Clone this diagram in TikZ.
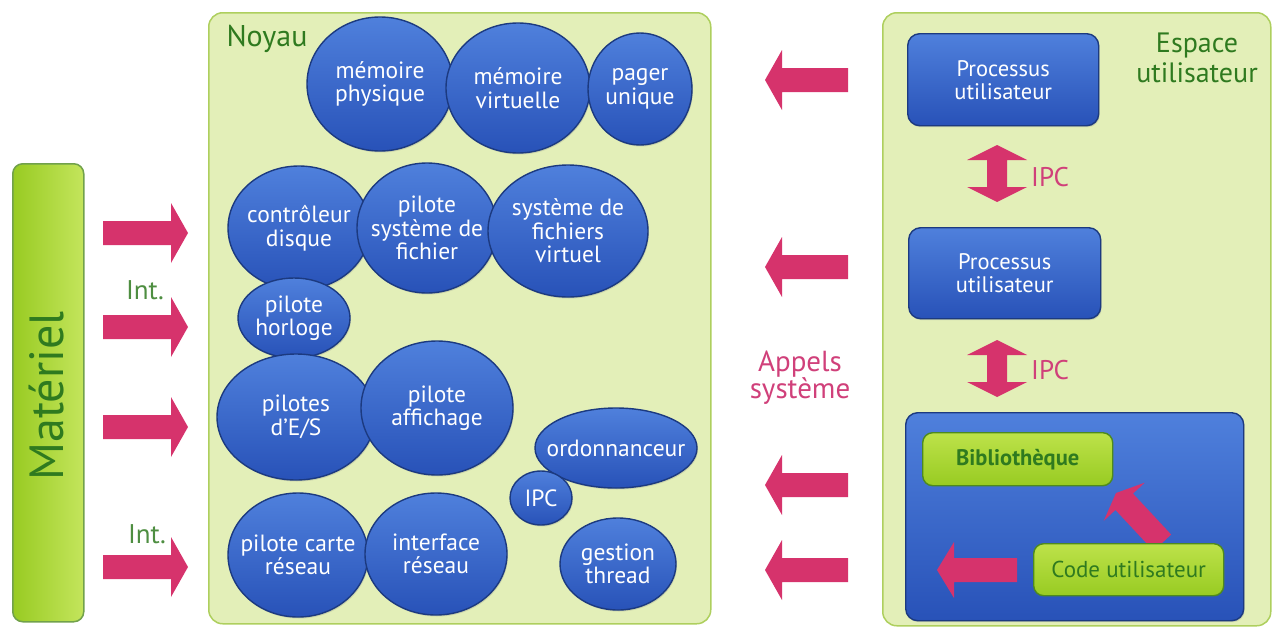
\documentclass[tikz,border=0pt]{standalone}
\usepackage{fontspec}
\setmainfont{PT Sans}
\usetikzlibrary{shapes.geometric,shadows}
\definecolor{bLight}{HTML}{4F80DC}
\definecolor{bDark}{HTML}{2852B8}
\definecolor{bEdge}{HTML}{1C3A80}
\definecolor{panelFill}{HTML}{E3EFB8}
\definecolor{panelEdge}{HTML}{AECF5E}
\definecolor{gLight}{HTML}{BDE24A}
\definecolor{gDark}{HTML}{98CB22}
\definecolor{gEdge}{HTML}{4E8A1E}
\definecolor{dGreen}{HTML}{2F7A1F}
\definecolor{arrowCol}{HTML}{D6336C}
\definecolor{pinkText}{HTML}{D0407A}
\newcommand\blockarrow[5]{% tip, angle, length, head half-width, head length
  \fill[arrowCol, shift={#1}, rotate=#2]
    (0,0) -- (-#5,#4) -- (-#5,12) -- (-#3,12) -- (-#3,-12) -- (-#5,-12) -- (-#5,-#4) -- cycle;}
\newcommand\ipcarrow[3]{% x, top y, bottom y
  \fill[arrowCol] (#1,#2) -- ({#1+30},{#2+15}) -- ({#1+10},{#2+15}) -- ({#1+10},{#3-15})
    -- ({#1+30},{#3-15}) -- (#1,#3) -- ({#1-30},{#3-15}) -- ({#1-10},{#3-15})
    -- ({#1-10},{#2+15}) -- ({#1-30},{#2+15}) -- cycle;}
\newcommand\bub[5]{% name, width, height, centre, text
  \node[bubble, minimum width=#2pt, minimum height=#3pt, label={[bubtext]center:#5}] (#1) at (#4) {};}
\tikzset{
  panel/.style={draw=panelEdge, fill=panelFill, line width=1.5pt, rounded corners=14pt, anchor=north west, inner sep=0pt},
  bubble/.style={ellipse, draw=bEdge, line width=1.4pt, top color=bLight, bottom color=bDark,
    inner sep=0pt, drop shadow={opacity=0.25, shadow xshift=1pt, shadow yshift=-1.5pt}},
  bubtext/.style={text=white, align=center, inner sep=0pt, font=\fontsize{23.5}{23.5}\selectfont},
  bluebox/.style={draw=bEdge, line width=1.4pt, top color=bLight, bottom color=bDark, rounded corners=12pt,
    text=white, align=center, inner sep=0pt, anchor=north west, font=\fontsize{22.5}{23}\selectfont,
    drop shadow={opacity=0.25, shadow xshift=1pt, shadow yshift=-1.5pt}},
  greenbox/.style={draw=gEdge, line width=1.4pt, top color=gLight, bottom color=gDark, rounded corners=10pt,
    text=dGreen, align=center, inner sep=0pt, anchor=north west, font=\fontsize{23}{24}\selectfont},
  lbl/.style={align=center, inner sep=0pt}
}
\begin{document}
\begin{tikzpicture}[x=1pt,y=-1pt]
\useasboundingbox (0,0) rectangle (1276,632);
% panels
\node[panel, draw=gEdge!80, left color=gDark, right color=gLight!90, rounded corners=10pt,
  minimum width=71pt, minimum height=458pt] (mat) at (12,163) {};
\node[panel, minimum width=502pt, minimum height=611pt] (noyau) at (208,12) {};
\node[panel, minimum width=388pt, minimum height=613pt] (user) at (882,12) {};
% labels
\node[lbl, text=dGreen, rotate=90, font=\fontsize{48}{50}\selectfont] (matl) at (47,396) {Matériel};
\node[lbl, text=dGreen, font=\fontsize{30}{30}\selectfont] (noyl) at (267,39) {Noyau};
\node[lbl, text=dGreen, font=\fontsize{28}{30}\selectfont] (espl) at (1197,58) {Espace\\utilisateur};
\node[lbl, text=pinkText, font=\fontsize{29}{27}\selectfont] (appl) at (800,378) {Appels\\système};
\node[lbl, text=dGreen!85, font=\fontsize{27}{28}\selectfont] (int1) at (145,290) {Int.};
\node[lbl, text=dGreen!85, font=\fontsize{27}{28}\selectfont] (int2) at (147,534) {Int.};
% kernel bubbles
\bub{mphys}{146}{134}{380,84}{mémoire\\physique}
\bub{mvirt}{144}{130}{518,88}{mémoire\\virtuelle}
\bub{pager}{104}{112}{640,89}{pager\\unique}
\bub{cdisk}{142}{124}{299,228}{contrôleur\\disque}
\bub{psf}{140}{130}{427,228}{pilote\\système de\\fichier}
\bub{vfs}{160}{132}{568,231}{système de\\fichiers\\virtuel}
\bub{horl}{112}{80}{294,318}{pilote\\horloge}
\bub{pes}{158}{126}{296,417}{pilotes\\d'E/S}
\bub{paff}{152}{134}{437,408}{pilote\\affichage}
\bub{ordo}{162}{80}{616,448}{ordonnanceur}
\bub{ipck}{62}{54}{541,498}{IPC}
\bub{pcr}{140}{124}{298,555}{pilote carte\\réseau}
\bub{ires}{142}{122}{436,554}{interface\\réseau}
\bub{gthr}{116}{92}{618,564}{gestion\\thread}
% user space
\node[bluebox, minimum width=191pt, minimum height=92pt] (proc1) at (907,33) {Processus\\utilisateur};
\node[bluebox, minimum width=192pt, minimum height=91pt] (proc2) at (908,227) {Processus\\utilisateur};
\node[bluebox, minimum width=338pt, minimum height=208pt] (proc3) at (905,412) {};
\node[greenbox, font=\bfseries\fontsize{22.5}{24}\selectfont, minimum width=190pt, minimum height=53pt] (bib) at (922,432) {Bibliothèque};
% inner arrows
\blockarrow{(1116,493)}{133}{68}{28}{12}
\blockarrow{(937,570)}{180}{80}{28}{17}
\node[greenbox, minimum width=190pt, minimum height=52pt] (code) at (1033,543) {Code utilisateur};
% IPC arrows
\ipcarrow{997}{145}{202}
\node[lbl, text=pinkText, font=\fontsize{27}{28}\selectfont, anchor=west] (ipc1) at (1031,177) {IPC};
\ipcarrow{997}{340}{397}
\node[lbl, text=pinkText, font=\fontsize{27}{28}\selectfont, anchor=west] (ipc2) at (1031,370) {IPC};
% hardware arrows
\blockarrow{(188,233)}{0}{85}{30}{17}
\blockarrow{(188,327)}{0}{85}{30}{17}
\blockarrow{(188,427)}{0}{85}{30}{17}
\blockarrow{(188,567)}{0}{85}{30}{17}
% system call arrows
\blockarrow{(765,80)}{180}{83}{30}{17}
\blockarrow{(765,267)}{180}{83}{30}{17}
\blockarrow{(765,485)}{180}{83}{30}{17}
\blockarrow{(765,570)}{180}{83}{30}{17}
\end{tikzpicture}
\end{document}
